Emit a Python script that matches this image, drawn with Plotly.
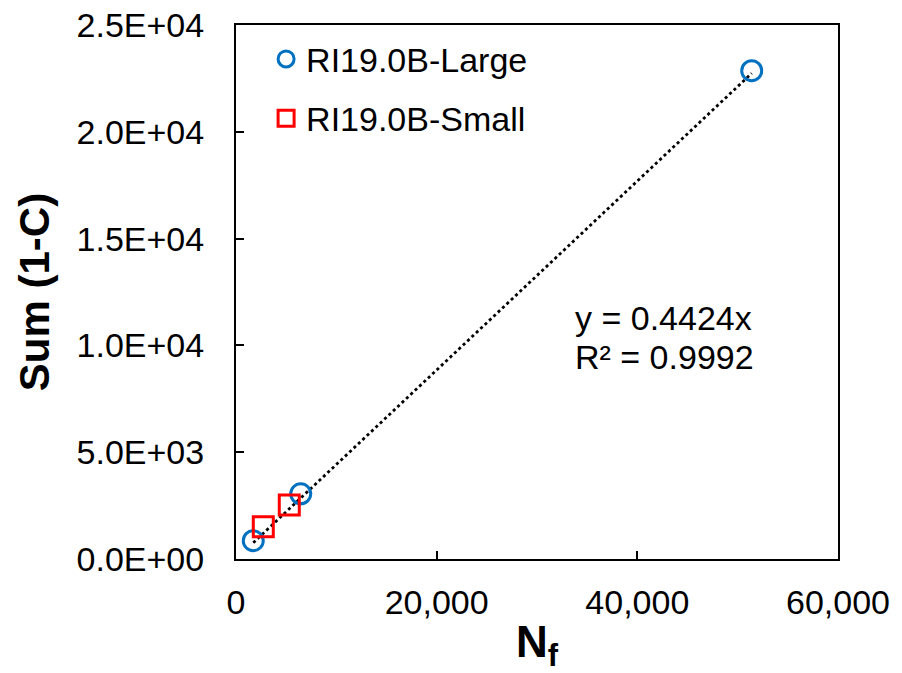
import plotly.graph_objects as go

# Data
large_x = [1720, 6450, 51400]
large_y = [858, 3050, 22860]
small_x = [2720, 5310]
small_y = [1515, 2533]
slope = 0.4424
r2 = 0.9992

x_ticks = [0, 20000, 40000, 60000]
y_ticks = [0, 5000, 10000, 15000, 20000, 25000]
y_ticktext = [f"{v:.1E}" for v in y_ticks]
x_ticktext = [f"{v:,}" for v in x_ticks]

FONT = "Liberation Sans, Arial, sans-serif"
FS = 34

all_x = large_x + small_x
tx = [min(all_x), max(all_x)]
ty = [slope * v for v in tx]

fig = go.Figure()
fig.add_trace(go.Scatter(
    x=tx, y=ty, mode="lines", showlegend=False,
    line=dict(color="black", width=2.8, dash="dot"), hoverinfo="skip"))
fig.add_trace(go.Scatter(
    x=large_x, y=large_y, mode="markers", name="RI19.0B-Large", legendgroup="a",
    marker=dict(symbol="circle-open", size=20, color="#0070C0",
                line=dict(width=3, color="#0070C0"))))
fig.add_trace(go.Scatter(
    x=small_x, y=small_y, mode="markers", name="RI19.0B-Small", legendgroup="b",
    marker=dict(symbol="square-open", size=20, color="#FF0000",
                line=dict(width=3, color="#FF0000"))))

fig.add_annotation(
    x=0.56, y=0.452, xref="paper", yref="paper", xanchor="left", yanchor="middle",
    text=f"y = {slope}x", showarrow=False, align="left",
    font=dict(family=FONT, size=FS, color="black"))
fig.add_annotation(
    x=0.56, y=0.379, xref="paper", yref="paper", xanchor="left", yanchor="middle",
    text=f"R² = {r2}", showarrow=False, align="left",
    font=dict(family=FONT, size=FS, color="black"))

fig.update_layout(
    width=902, height=673,
    margin=dict(l=236, r=64, t=25, b=114),
    paper_bgcolor="white", plot_bgcolor="white",
    font=dict(family=FONT, size=FS, color="black"),
    showlegend=True,
    legend=dict(x=0.05, y=0.99, xanchor="left", yanchor="top",
                bgcolor="rgba(0,0,0,0)", tracegroupgap=12,
                font=dict(family=FONT, size=FS, color="black"),
                itemwidth=30),
    xaxis=dict(range=[0, 60000], tickvals=x_ticks, ticktext=x_ticktext,
               automargin=False,
               showgrid=False, zeroline=False, showline=True, linecolor="black",
               linewidth=2, mirror=True, ticks="inside", ticklen=8, tickwidth=1.5,
               tickcolor="black", ticklabelstandoff=12,
               tickfont=dict(family=FONT, size=FS),
               title=dict(text="<b>N<sub>f</sub></b>", font=dict(family=FONT, size=44),
                          standoff=10)),
    yaxis=dict(range=[0, 25000], tickvals=y_ticks, ticktext=y_ticktext,
               automargin=False,
               showgrid=False, zeroline=False, showline=True, linecolor="black",
               linewidth=2, mirror=True, ticks="inside", ticklen=8, tickwidth=1.5,
               tickcolor="black", ticklabelstandoff=23,
               tickfont=dict(family=FONT, size=FS),
               title=dict(text="<b>Sum (1-C)</b>", font=dict(family=FONT, size=42),
                          standoff=14)),
)

fig.write_html("out.html")
